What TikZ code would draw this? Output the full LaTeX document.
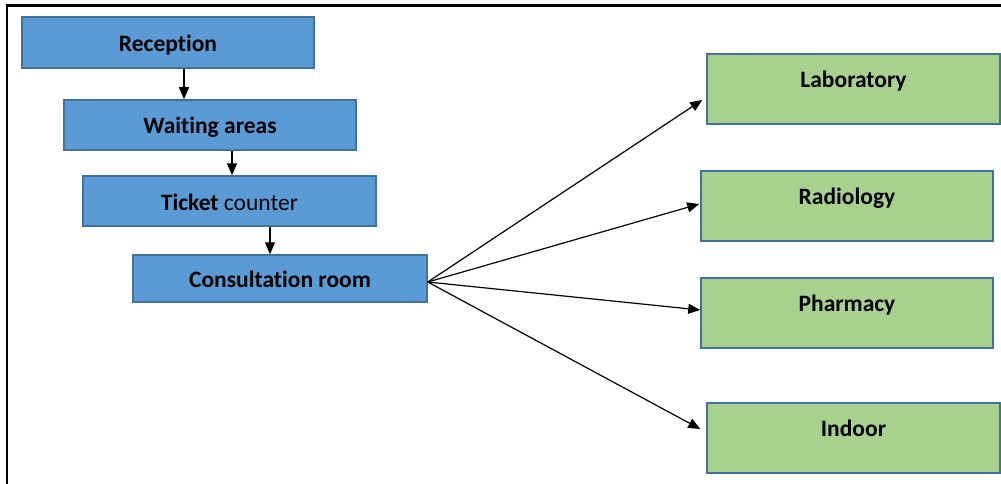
\documentclass[tikz,border=0pt]{standalone}
\usepackage{fontspec}
\setmainfont[Ligatures=NoCommon]{Carlito}
\usetikzlibrary{arrows.meta}
\definecolor{bluefill}{HTML}{5B9BD5}
\definecolor{blueline}{HTML}{41719C}
\definecolor{greenfill}{HTML}{A9D18E}
\begin{document}
\begin{tikzpicture}[x=1pt,y=-1pt,
  boxfont/.style={font=\fontsize{23.5}{28}\selectfont},
  bluebox/.style={draw=blueline,fill=bluefill,line width=1.5pt,rectangle,inner sep=0pt,
    minimum width=292pt,text height=22pt,text depth=4pt,boxfont},
  greenbox/.style={draw=blueline,fill=greenfill,line width=1.5pt,rectangle,inner sep=0pt,
    minimum width=292pt,minimum height=70pt,text height=15pt,text depth=18pt,boxfont},
  conn/.style={-{Triangle[length=12pt,width=10pt]},line width=1.2pt,black}]
\useasboundingbox (0,0) rectangle (1001,484);
\draw[line width=2.5pt] (7,484) -- (7,5.5) -- (1001,5.5);
% blue boxes
\node[bluebox,minimum height=51pt] (rec) at (168,42.5) {\bfseries Reception};
\node[bluebox,minimum height=50pt] (wait) at (210,125) {\bfseries Waiting areas};
\node[bluebox,minimum width=293pt,minimum height=50pt] (tick) at (229.5,201) {\textbf{Ticket} counter};
\node[bluebox,minimum width=294pt,minimum height=47pt] (cons) at (280,278.5) {\bfseries Consultation room};
% green boxes
\node[greenbox,minimum width=293pt] (lab) at (853.5,89) {\bfseries Laboratory};
\node[greenbox] (rad) at (847,206) {\bfseries Radiology};
\node[greenbox] (pha) at (847,313) {\bfseries Pharmacy};
\node[greenbox,minimum width=293pt] (ind) at (853.5,438) {\bfseries Indoor};
% connectors
\draw[conn] ([xshift=16pt]rec.south) -- ([xshift=-26pt]wait.north);
\draw[conn] ([xshift=22pt]wait.south) -- ([xshift=2.5pt]tick.north);
\draw[conn] ([xshift=40.5pt]tick.south) -- ([xshift=-10pt]cons.north);
\coordinate (hub) at ([yshift=-3.5pt]cons.east);
\draw[conn] (hub) -- ([xshift=-4pt,yshift=-11pt]lab.west);
\draw[conn] (hub) -- ([xshift=-1pt,yshift=2pt]rad.west);
\draw[conn] (hub) -- ([yshift=3pt]pha.west);
\draw[conn] (hub) -- ([xshift=-6pt,yshift=9pt]ind.west);
\end{tikzpicture}
\end{document}
